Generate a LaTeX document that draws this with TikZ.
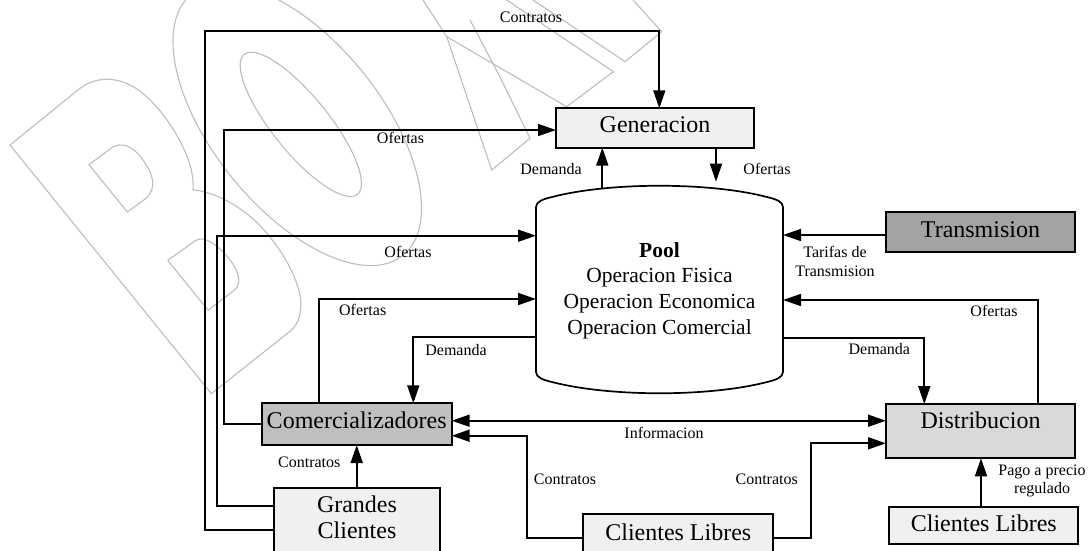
\documentclass[tikz,border=0pt]{standalone}
\usepackage{fontspec}
\setmainfont{Liberation Serif}
\usetikzlibrary{arrows.meta}
\definecolor{genfill}{HTML}{F0F0F0}
\definecolor{transfill}{HTML}{A3A3A3}
\definecolor{distfill}{HTML}{D9D9D9}
\definecolor{comfill}{HTML}{BFBFBF}
\definecolor{clifill}{HTML}{F0F0F0}
\definecolor{wmgray}{HTML}{BDBDBD}
\newcommand\fntBox{\fontsize{24}{26}\selectfont}
\newcommand\fntLbl{\fontsize{16}{19.4}\selectfont}
\newcommand\fntPool{\fontsize{21.5}{25.7}\selectfont}

\begin{document}
\begin{tikzpicture}[x=1pt,y=-1pt,
  box/.style={draw, line width=1.7pt, inner sep=0pt, outer sep=0pt, anchor=north west, font=\fntBox},
  conn/.style={line width=1.7pt},
  arr/.style={conn, -{Triangle[length=18pt,width=12pt]}},
  biarr/.style={conn, {Triangle[length=18pt,width=12pt]}-{Triangle[length=18pt,width=12pt]}},
  lbl/.style={font=\fntLbl, anchor=base, inner sep=0pt},
  wm/.style={draw=wmgray, line width=1.1pt}]

\fill[white] (0,0) rectangle (1089,550);
\useasboundingbox (0,0) rectangle (1089,550);
\clip (0,0) rectangle (1089,550);

% ---- background watermark (outlined letters) ----
\begin{scope}[shift={(10,145)}, rotate=39]
  % B
  \draw[wm] (0,0) -- (88,0) .. controls (110,0) and (128,14) .. (135,40)
     .. controls (141,65) and (138,105) .. (126,132)
     .. controls (121,142) and (116,148) .. (114,150)
     .. controls (124,160) and (138,180) .. (143,215)
     .. controls (147,250) and (140,290) .. (125,308)
     .. controls (116,318) and (108,321) .. (100,321) -- (0,320) -- cycle;
  \draw[wm] (49,65) -- (75,66) .. controls (90,66) and (95,80) .. (94,95)
     .. controls (93,112) and (88,126) .. (72,127) -- (49,126) -- cycle;
  \draw[wm] (50,189) -- (84,191) .. controls (98,192) and (101,225) .. (97,240)
     .. controls (94,250) and (90,254) .. (82,254) -- (50,253) -- cycle;
  % O
  \draw[wm] (236,165) ellipse [x radius=84, y radius=168];
  \draw[wm] (239,167) ellipse [x radius=28, y radius=90];
\end{scope}
\draw[wm] (423,0) -- (446.7,36.7) -- (491.7,170) -- (530,138.3) -- (500,77) -- (470,20);
\draw[wm] (446.7,36.7) -- (566.7,106.7) -- (613.3,71.7) -- (506.7,0);
\draw[wm] (533,0) -- (625,61.7) -- (661.7,31.7) -- (633,0);

% ---- boxes ----
\node[box, fill=genfill, minimum width=198pt, text height=24.4pt, text depth=15pt] (gen) at (556,108.3) {Generacion};
\node[box, fill=transfill, minimum width=189pt, text height=25.2pt, text depth=14.2pt] (trans) at (886,212.3) {Transmision};
\node[box, fill=distfill, minimum width=189pt, text height=24.3pt, text depth=30pt] (dist) at (886,404) {Distribucion};
\node[box, fill=comfill, minimum width=190pt, text height=25pt, text depth=16.7pt] (com) at (261.7,403.3) {Comercializadores};
\node[box, fill=clifill, minimum width=166pt, text height=24pt, text depth=66pt] (gran) at (274,488.3)
  {\begin{tabular}[t]{@{}c@{}}Grandes\\Clientes\end{tabular}};
\node[box, fill=clifill, minimum width=190pt, text height=25.7pt, text depth=34.3pt] (libm) at (583.3,514.3) {Clientes Libres};
\node[box, fill=clifill, minimum width=189pt, text height=24.4pt, text depth=12.6pt] (libr) at (889.3,507.3) {Clientes Libres};

% ---- pool (cylinder) ----
\node[inner sep=0pt, outer sep=0pt, anchor=north, minimum width=247pt,
      text height=71pt, text depth=136pt, font=\fntPool] (pool) at (659.5,186)
  {\begin{tabular}[t]{@{}c@{}}\textbf{Pool}\\Operacion Fisica\\Operacion Economica\\Operacion Comercial\end{tabular}};
\begin{scope}[shift={(pool.center)}]
  \draw[conn] (-123.5,-82.5) -- (-123.5,82.5)
    .. controls (-123.5,88) and (-116,90.5) .. (-107.5,92.5)
    .. controls (-50,107.5) and (50,107.5) .. (107.5,92.5)
    .. controls (116,90.5) and (123.5,88) .. (123.5,82.5)
    -- (123.5,-82.5)
    .. controls (123.5,-88) and (116,-90.5) .. (107.5,-92.5)
    .. controls (50,-107.5) and (-50,-107.5) .. (-107.5,-92.5)
    .. controls (-116,-90.5) and (-123.5,-88) .. cycle;
\end{scope}

% ---- connectors ----
\draw[arr] (gran.west |- 0,530) -| (205.3,31) -| (gen.north -| 659.3,0);
\draw[arr] (com.west |- 0,424) -| (224.3,130) -- (gen.west |- 0,130);
\draw[arr] (gran.west |- 0,506) -| (217.3,235.7) -- (pool.west |- 0,235.7);
\draw[arr] ([shift={(-57.2,2.6)}]pool.north) -- (gen.south -| 602.3,0);
\draw[arr] (gen.south -| 716,0) -- ++(0,34);
\draw[arr] (trans.west |- 0,235) -- (pool.east |- 0,235);
\draw[arr] (dist.north -| 1037.7,0) |- (pool.east |- 0,300);
\draw[arr] (pool.east |- 0,337.7) -| (dist.north -| 924.3,0);
\draw[arr] (com.north -| 319,0) |- (pool.west |- 0,299);
\draw[arr] (pool.west |- 0,336.7) -| (com.north -| 413.3,0);
\draw[biarr] (com.east |- 0,420.7) -- (dist.west |- 0,420.7);
\draw[arr] (libm.west |- 0,537.7) -| (526.7,435.7) -- (com.east |- 0,435.7);
\draw[arr] (libm.east |- 0,537.7) -| (810.7,443.3) -- (dist.west |- 0,443.3);
\draw[arr] (libr.north -| 981,0) -- (dist.south -| 981,0);
\draw[arr] (gran.north -| 356.7,0) -- (com.south -| 356.7,0);

% ---- connector labels ----
\node[lbl] (tContG) at (531,22) {Contratos};
\node[lbl] (tOfG) at (400.5,143.3) {Ofertas};
\node[lbl] (tOfP) at (408,257.3) {Ofertas};
\node[lbl] (tDemG) at (551,174) {Demanda};
\node[lbl] (tOfGP) at (767,174) {Ofertas};
\node[lbl] (tTar) at (835,257.3) {\begin{tabular}[t]{@{}c@{}}Tarifas de\\Transmision\end{tabular}};
\node[lbl] (tOfD) at (994,316.7) {Ofertas};
\node[lbl] (tDemD) at (879.3,354.3) {Demanda};
\node[lbl] (tOfC) at (362.7,315.7) {Ofertas};
\node[lbl] (tDemC) at (456,355) {Demanda};
\node[lbl] (tInfo) at (664,438.3) {Informacion};
\node[lbl] (tContL) at (565,484) {Contratos};
\node[lbl] (tContR) at (766.7,484) {Contratos};
\node[lbl] (tContC) at (309.3,467.3) {Contratos};
\node[lbl, font=\fontsize{16}{18.3}\selectfont] (tPago) at (1042,475)
  {\begin{tabular}[t]{@{}c@{}}Pago a precio\\regulado\end{tabular}};
\end{tikzpicture}
\end{document}
